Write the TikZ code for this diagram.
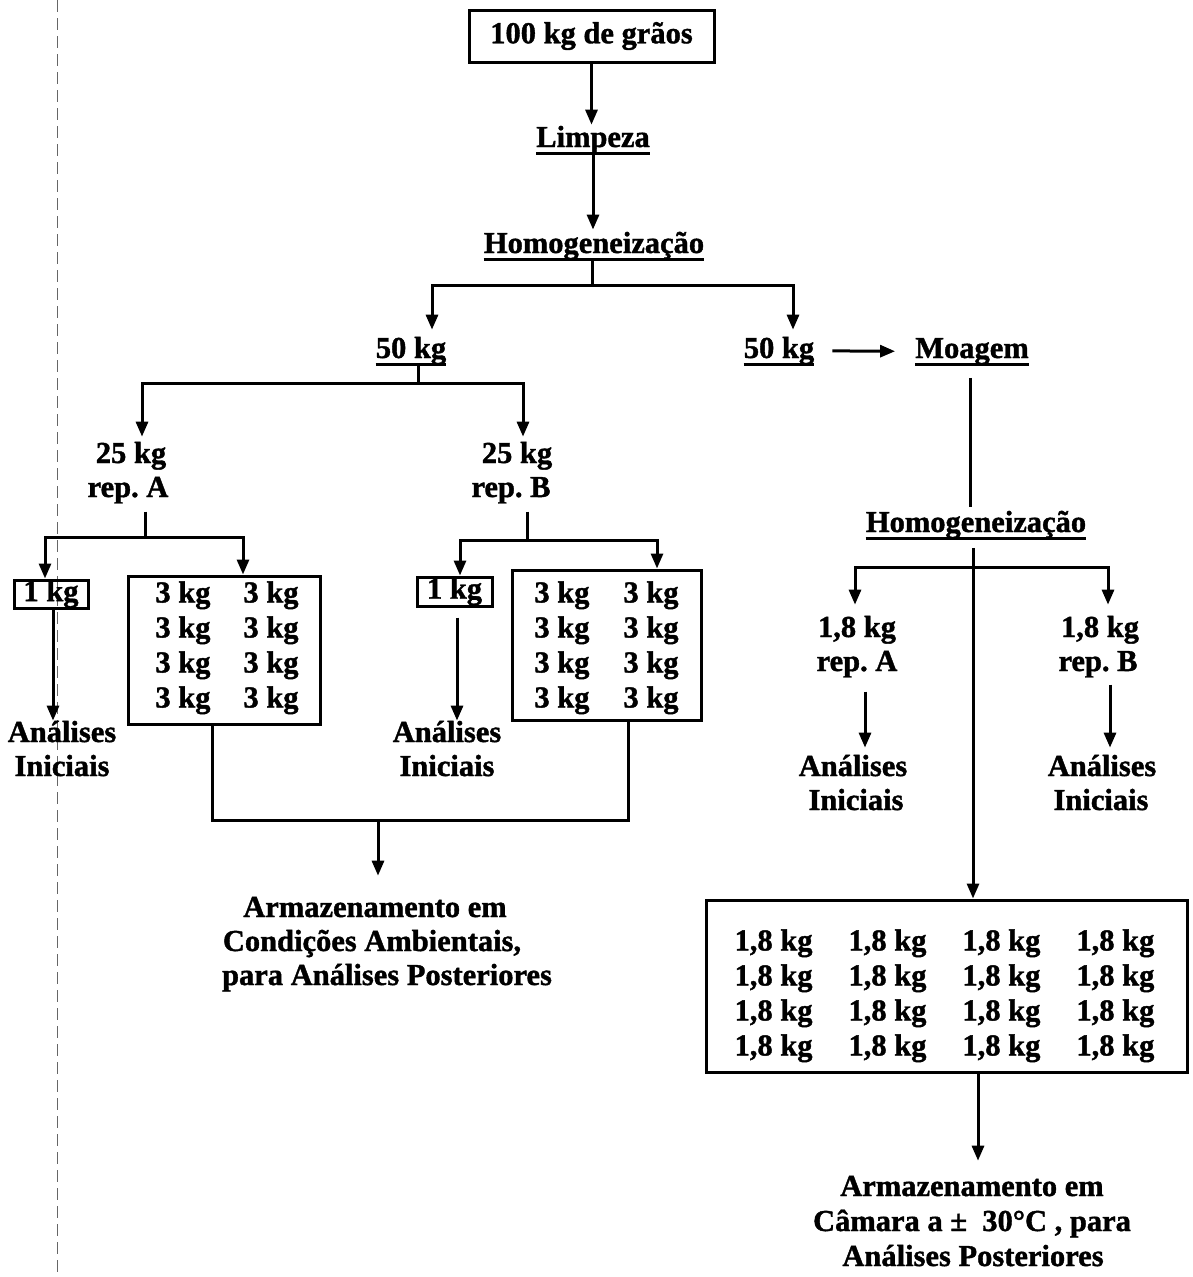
\documentclass[tikz,border=0pt]{standalone}
\usepackage{fontspec}
\setmainfont{Liberation Serif}[BoldFeatures={FakeBold=1.3}]
\usetikzlibrary{arrows.meta}
\newcommand\myfnt{\fontsize{30.5}{35}\selectfont\bfseries\frenchspacing}
\begin{document}
\begin{tikzpicture}[x=1pt,y=-1pt,
  lbl/.style={inner sep=0pt, anchor=base, font=\myfnt},
  bx/.style={draw, line width=3pt, inner sep=0pt, font=\myfnt},
  grd/.style={inner sep=0pt, font=\myfnt},
  ln/.style={line width=3pt},
  arr/.style={line width=3pt, -{Triangle[length=15pt,width=12pt]}},
  ul/.style={line width=3pt},
  scan/.style={black!60, line width=1pt, dash pattern=on 12pt off 6pt}]
\useasboundingbox (0,0) rectangle (1192,1277);
\draw[scan] (57,0) -- (57,1277);

% left / top part
\node[bx, minimum width=245pt, minimum height=52pt] (top) at (591.5,36) {100 kg de grãos};
\node[lbl] (lim) at (593,147) {Limpeza};
\node[lbl] (homA) at (594,253) {Homogeneização};
\node[lbl] (fL) at (411,358) {50 kg};
\node[lbl] (fR) at (779,358) {50 kg};
\node[lbl] (moa) at (972,358) {Moagem};
\node[lbl] (qA) at (131,463) {25 kg};
\node[lbl] (rA) at (128,497) {rep. A};
\node[lbl] (qB) at (517,463) {25 kg};
\node[lbl] (rB) at (511,497) {rep. B};
\node[bx, minimum width=74pt, minimum height=28pt] (kA) at (51,594) {1 kg};
\node[bx, minimum width=75pt, minimum height=29pt] (kB) at (454.5,591.5) {1 kg};
\node[bx, minimum width=192pt, minimum height=148pt] (boxA) at (224,650) {};
\node[grd] (gA) at (227,648) {\begin{tabular}{@{}c@{\hspace{33pt}}c@{}}3 kg & 3 kg\\3 kg & 3 kg\\3 kg & 3 kg\\3 kg & 3 kg\end{tabular}};
\node[bx, minimum width=189pt, minimum height=150pt] (boxB) at (606.5,645) {};
\node[grd] (gB) at (606.5,648) {\begin{tabular}{@{}c@{\hspace{34pt}}c@{}}3 kg & 3 kg\\3 kg & 3 kg\\3 kg & 3 kg\\3 kg & 3 kg\end{tabular}};
\node[lbl] (AnA) at (62,742) {Análises};
\node[lbl] (InA) at (62,776) {Iniciais};
\node[lbl] (AnB) at (447,742) {Análises};
\node[lbl] (InB) at (447,776) {Iniciais};
\node[lbl] (ArmL1) at (375,917) {Armazenamento em};
\node[lbl] (ArmL2) at (372,951) {Condições Ambientais,};
\node[lbl] (ArmL3) at (387,985) {para Análises Posteriores};

% right part
\node[lbl] (homR) at (976,532) {Homogeneização};
\node[lbl] (qRA) at (857,637) {1,8 kg};
\node[lbl] (rRA) at (857,671) {rep. A};
\node[lbl] (qRB) at (1100,637) {1,8 kg};
\node[lbl] (rRB) at (1098,671) {rep. B};
\node[lbl] (AnRA) at (853,776) {Análises};
\node[lbl] (InRA) at (856,810) {Iniciais};
\node[lbl] (AnRB) at (1102,776) {Análises};
\node[lbl] (InRB) at (1101,810) {Iniciais};
\node[bx, minimum width=481pt, minimum height=172pt] (bigR) at (946.5,986) {};
\node[grd] (gR) at (944.5,996) {\begin{tabular}{@{}c@{\hspace{36pt}}c@{\hspace{36pt}}c@{\hspace{36pt}}c@{}}1,8 kg & 1,8 kg & 1,8 kg & 1,8 kg\\1,8 kg & 1,8 kg & 1,8 kg & 1,8 kg\\1,8 kg & 1,8 kg & 1,8 kg & 1,8 kg\\1,8 kg & 1,8 kg & 1,8 kg & 1,8 kg\end{tabular}};
\node[lbl] (ArmR1) at (972,1196) {Armazenamento em};
\node[lbl] (ArmR2) at (972,1231) {Câmara a ±~ 30°C , para};
\node[lbl] (ArmR3) at (973,1266) {Análises Posteriores};

% underlines
\foreach \n in {lim,homA,fL,fR,moa,homR}
  \draw[ul] ([yshift=-6pt]\n.base west) -- ([yshift=-6pt]\n.base east);

% branch points
\coordinate (brA) at (592,285);
\coordinate (brB) at (418,383);
\coordinate (brC) at (145,537);
\coordinate (brD) at (527,540);
\coordinate (brE) at (973,567);
\coordinate (jA) at (212,820);
\coordinate (jB) at (628,820);
\coordinate (jL) at (378,820);

% connectors
\draw[arr, shorten >=1pt] (top.south) -- (top.south |- lim.north);
\draw[arr, shorten >=2pt] (lim.south) -- (lim.south |- homA.north);
\draw[ln] (homA.south -| brA) -- (brA);
\draw[arr, shorten >=7pt] (brA) -| ([xshift=21pt]fL.north);
\draw[arr, shorten >=7pt] (brA) -| ([xshift=14pt]fR.north);
\draw[arr, shorten <=18pt, shorten >=20pt] (fR.east) -- (moa.west);

\draw[ln] ([xshift=7pt]fL.south) -- (brB);
\draw[arr, shorten >=5pt] (brB) -| ([xshift=11pt]qA.north);
\draw[arr, shorten >=5pt] (brB) -| ([xshift=6pt]qB.north);

\draw[ln, shorten <=8pt] ([xshift=17pt]rA.south) -- (brC);
\draw[arr] (brC) -| ([xshift=-6pt]kA.north);
\draw[arr] (brC) -| ([xshift=19pt]boxA.north);

\draw[ln, shorten <=8pt] ([xshift=16pt]rB.south) -- (brD);
\draw[arr] (brD) -| ([xshift=5.5pt]kB.north);
\draw[arr] (brD) -| ([xshift=50.5pt]boxB.north);

\draw[arr] ([xshift=2pt]kA.south) -- ([xshift=-9pt]AnA.north);
\draw[arr, shorten <=10pt] ([xshift=2.5pt]kB.south) -- ([xshift=10pt]AnB.north);

\draw[ln] (boxA.south -| jA) -- (jA) -- (jB) -- (boxB.south -| jB);
\draw[arr, shorten >=21pt] (jL) -- (ArmL1.north -| jL);

\draw[ln, shorten <=13pt, shorten >=4pt] ([xshift=-2pt]moa.south) -- ([xshift=-6pt]homR.north);
\draw[arr, shorten <=9pt] ([xshift=-3pt]homR.south) -- ([xshift=26.5pt]bigR.north);
\draw[arr, shorten >=11pt] (brE) -| ([xshift=-2pt]qRA.north);
\draw[arr, shorten >=11pt] (brE) -| ([xshift=8pt]qRB.north);
\draw[arr, shorten <=14pt, shorten >=7pt] ([xshift=8pt]rRA.south) -- ([xshift=12pt]AnRA.north);
\draw[arr, shorten <=7pt, shorten >=7pt] ([xshift=12pt]rRB.south) -- ([xshift=8pt]AnRB.north);
\draw[arr, shorten >=15pt] ([xshift=31.5pt]bigR.south) -- ([xshift=6pt]ArmR1.north);
\end{tikzpicture}
\end{document}
